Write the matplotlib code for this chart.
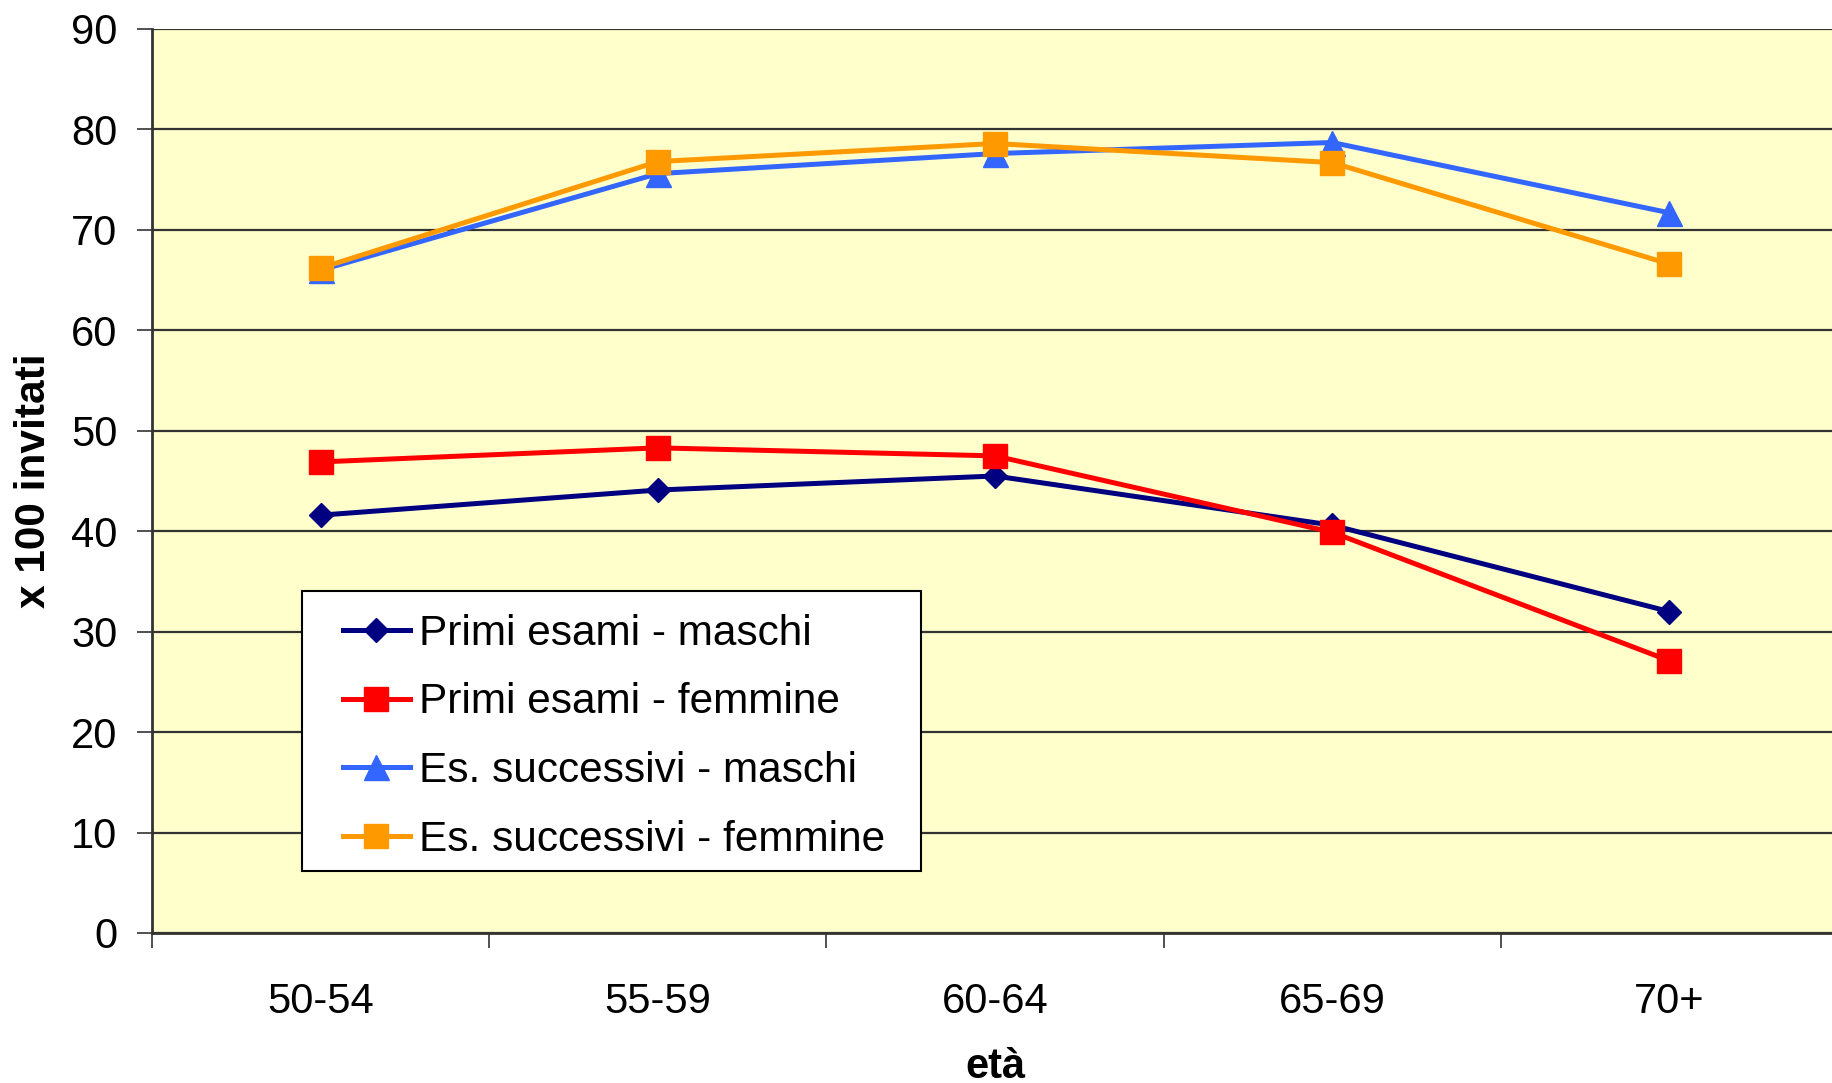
import matplotlib
matplotlib.use("Agg")
import matplotlib.pyplot as plt
from matplotlib.path import Path
import numpy as np

# Age groups and rates per 100 invited
age_groups = ["50-54", "55-59", "60-64", "65-69", "70+"]
primi_maschi = [41.6, 44.1, 45.5, 40.6, 32.0]
primi_femmine = [46.9, 48.3, 47.5, 39.9, 27.1]
succ_maschi = [66.0, 75.6, 77.6, 78.7, 71.7]
succ_femmine = [66.2, 76.8, 78.6, 76.7, 66.6]

series_labels = [
    "Primi esami - maschi",
    "Primi esami - femmine",
    "Es. successivi - maschi",
    "Es. successivi - femmine",
]
y_ticks = [0, 10, 20, 30, 40, 50, 60, 70, 80, 90]

plt.rcParams["font.family"] = ["Liberation Sans", "DejaVu Sans"]

W, H = 1833, 1083
fig = plt.figure(figsize=(W / 100, H / 100), dpi=100)
ax = fig.add_axes([152 / W, (H - 933) / H, 1686 / W, 904 / H])
ax.set_facecolor("#FFFFCC")

x = np.arange(len(age_groups))
styles = [
    (primi_maschi, "#000080", "D", 12.7),
    (primi_femmine, "#FF0000", "s", 17.0),
    (succ_maschi, "#3366FF", "^", 18.0),
    (succ_femmine, "#FF9900", "s", 17.0),
]
for (vals, col, mk, ms), lab in zip(styles, series_labels):
    ax.plot(x, vals, color=col, lw=3.6, marker=mk, ms=ms,
            markerfacecolor=col, markeredgecolor=col, label=lab, zorder=3)

ax.set_xlim(-0.5, len(age_groups) - 0.5)
ax.set_ylim(0, 90)
ax.set_yticks(y_ticks)
ax.set_yticklabels([str(v) for v in y_ticks])
ax.set_xticks(x)
ax.set_xticklabels(age_groups)
ax.set_xticks(np.arange(-0.5, len(age_groups)), minor=True)

ax.yaxis.grid(True, color="#333333", lw=1.6, zorder=1)
ax.set_axisbelow(True)

ax.tick_params(axis="y", direction="out", length=11, width=1.2,
               color="#333333", labelsize=30, pad=14)
ax.tick_params(axis="x", which="major", length=0, labelsize=30, pad=35)
ax.tick_params(axis="x", which="minor", direction="out", length=11,
               width=1.2, color="#333333")

for side in ["top", "right"]:
    ax.spines[side].set_visible(False)
for side in ["left", "bottom"]:
    ax.spines[side].set_color("#333333")
    ax.spines[side].set_linewidth(2.0)

ax.set_ylabel("x 100 invitati", fontsize=30.5, fontweight="bold", labelpad=12)
ax.set_xlabel("età", fontsize=30, fontweight="bold", labelpad=18)


def wide_box(x0, y0, width, height, mutation_size):
    """Rectangular legend frame with extra horizontal margin."""
    left = x0 - 0.55 * mutation_size
    right = x0 + width + 0.45 * mutation_size
    dy = 0.14 * mutation_size
    bottom, top = y0 + dy, y0 + height + dy
    return Path([(left, bottom), (right, bottom), (right, top),
                 (left, top), (left, bottom)], closed=True)


leg = ax.legend(loc="lower left", bbox_to_anchor=(0.103, 0.062),
                borderaxespad=0, fontsize=30.5, frameon=True, fancybox=False,
                edgecolor="#000000", facecolor="white", framealpha=1,
                handlelength=1.6, handletextpad=0.2, labelspacing=0.68,
                borderpad=0.4)
leg.get_frame().set_boxstyle(wide_box)
leg.get_frame().set_linewidth(1.5)

fig.savefig("out.png", dpi=100, facecolor="white")
